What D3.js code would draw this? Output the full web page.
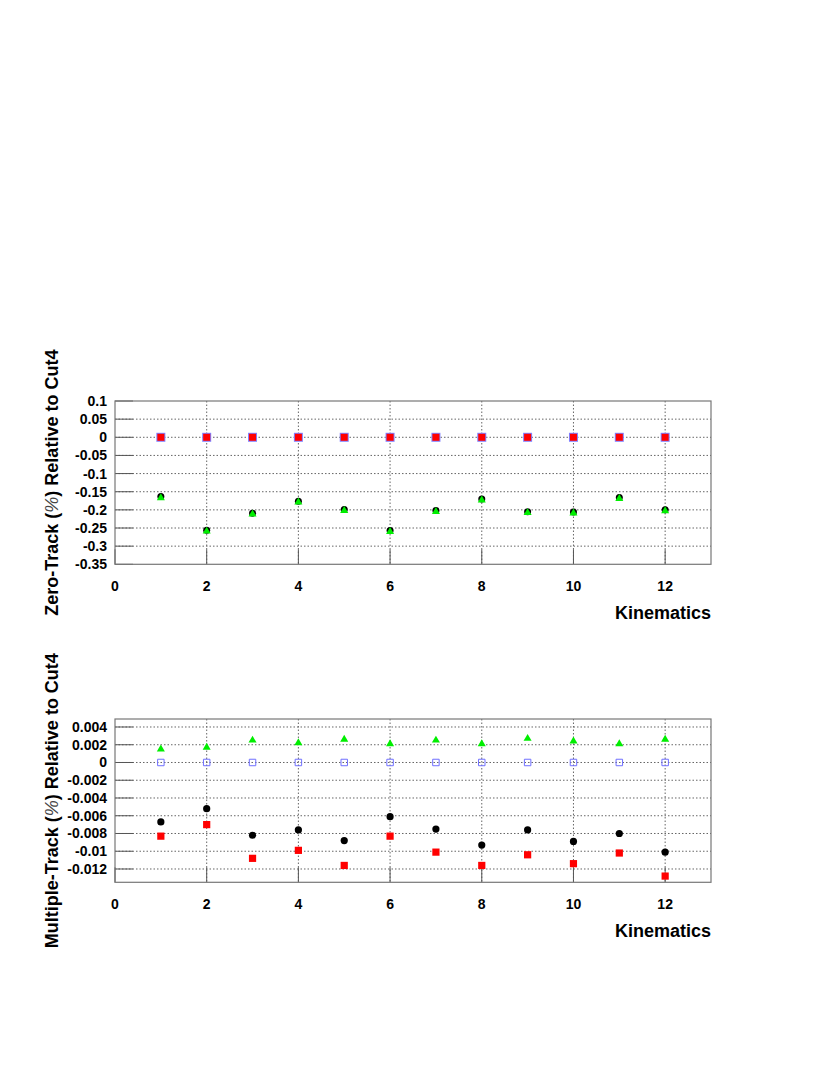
<!DOCTYPE html>
<html>
<head>
<meta charset="utf-8">
<script src="https://cdn.jsdelivr.net/npm/d3@7"></script>
<style>
  html, body { margin: 0; padding: 0; background: #fff; }
  svg { display: block; }
  text { font-family: "Liberation Sans", Arial, Helvetica, sans-serif; font-weight: bold; fill: #000; }
</style>
</head>
<body>
<svg id="chart" width="830" height="1075"></svg>
<script>
// ---------------- DATA ----------------
const kinematics = [1, 2, 3, 4, 5, 6, 7, 8, 9, 10, 11, 12];
const xTicks = [0, 2, 4, 6, 8, 10, 12];

// Zero-Track panel
const zeroBlack = [-0.163, -0.256, -0.209, -0.176, -0.199, -0.257, -0.202, -0.170, -0.205, -0.206, -0.166, -0.200];
const zeroGreen = [-0.167, -0.259, -0.212, -0.179, -0.202, -0.260, -0.205, -0.173, -0.208, -0.209, -0.169, -0.203];
const zeroBlue  = [0, 0, 0, 0, 0, 0, 0, 0, 0, 0, 0, 0];
const zeroRed   = [0, 0, 0, 0, 0, 0, 0, 0, 0, 0, 0, 0];
const zeroTicks = [0.1, 0.05, 0, -0.05, -0.1, -0.15, -0.2, -0.25, -0.3, -0.35];
const zeroTickLabels = ["0.1", "0.05", "0", "-0.05", "-0.1", "-0.15", "-0.2", "-0.25", "-0.3", "-0.35"];

// Multiple-Track panel
const multiGreen = [0.0015, 0.0017, 0.0025, 0.0022, 0.0026, 0.0021, 0.0025, 0.0021, 0.0027, 0.0024, 0.0021, 0.0026];
const multiBlue  = [0, 0, 0, 0, 0, 0, 0, 0, 0, 0, 0, 0];
const multiBlack = [-0.0067, -0.0052, -0.0082, -0.0076, -0.0088, -0.0061, -0.0075, -0.0093, -0.0076, -0.0089, -0.0080, -0.0101];
const multiRed   = [-0.0083, -0.0070, -0.0108, -0.0099, -0.0116, -0.0083, -0.0101, -0.0116, -0.0104, -0.0114, -0.0102, -0.0128];
const multiTicks = [0.004, 0.002, 0, -0.002, -0.004, -0.006, -0.008, -0.01, -0.012];
const multiTickLabels = ["0.004", "0.002", "0", "-0.002", "-0.004", "-0.006", "-0.008", "-0.01", "-0.012"];

const xTitle = "Kinematics";
const zeroTitle = ["Zero-Track (", "%", ") Relative to Cut4"];
const multiTitle = ["Multiple-Track (", "%", ") Relative to Cut4"];

// ---------------- DRAW ----------------
const svg = d3.select("#chart");

function panel(cfg) {
  const { top, bottom, left, right, yDomain, yTicks, yLabels, title, series } = cfg;
  const x = d3.scaleLinear().domain([0, 13]).range([left, right]);
  const y = d3.scaleLinear().domain(yDomain).range([bottom, top]);
  const g = svg.append("g");

  // grid (dotted)
  g.append("g").selectAll("line").data(yTicks.filter(v => y(v) > top + 1 && y(v) < bottom - 1))
    .join("line")
    .attr("x1", left).attr("x2", right)
    .attr("y1", d => y(d)).attr("y2", d => y(d))
    .attr("stroke", "#666").attr("stroke-width", 1).attr("stroke-dasharray", "1.5,2");
  g.append("g").selectAll("line").data(xTicks.filter(v => v > 0))
    .join("line")
    .attr("x1", d => x(d)).attr("x2", d => x(d))
    .attr("y1", top).attr("y2", bottom)
    .attr("stroke", "#666").attr("stroke-width", 1).attr("stroke-dasharray", "1.5,2");

  // ticks (solid, inside)
  g.append("g").selectAll("line").data(yTicks)
    .join("line")
    .attr("x1", left).attr("x2", left + 18)
    .attr("y1", d => y(d)).attr("y2", d => y(d))
    .attr("stroke", "#555").attr("stroke-width", 1);
  g.append("g").selectAll("line").data(xTicks)
    .join("line")
    .attr("x1", d => x(d)).attr("x2", d => x(d))
    .attr("y1", bottom).attr("y2", bottom - 15)
    .attr("stroke", "#555").attr("stroke-width", 1);

  // frame
  g.append("rect")
    .attr("x", left).attr("y", top)
    .attr("width", right - left).attr("height", bottom - top)
    .attr("fill", "none").attr("stroke", "#777").attr("stroke-width", 1.2);

  // tick labels
  g.append("g").selectAll("text").data(yTicks)
    .join("text")
    .attr("x", left - 8).attr("y", d => y(d))
    .attr("text-anchor", "end").attr("dominant-baseline", "central")
    .attr("font-size", 14)
    .text((d, i) => yLabels[i]);
  g.append("g").selectAll("text").data(xTicks)
    .join("text")
    .attr("x", d => x(d)).attr("y", bottom + 22)
    .attr("text-anchor", "middle").attr("dominant-baseline", "central")
    .attr("font-size", 14)
    .text(d => d);

  // axis titles
  g.append("text")
    .attr("x", right).attr("y", bottom + 49)
    .attr("text-anchor", "end").attr("dominant-baseline", "central")
    .attr("font-size", 18)
    .text(xTitle);
  const yt = g.append("text")
    .attr("transform", `translate(57.5,${(top + bottom) / 2}) rotate(-90)`)
    .attr("text-anchor", "middle")
    .attr("font-size", 18);
  yt.append("tspan").text(title[0]);
  yt.append("tspan").attr("font-style", "italic").style("font-weight", "normal").style("fill", "#444").text(title[1]);
  yt.append("tspan").text(title[2]);

  // markers
  const sym = (type, area) => d3.symbol().type(type).size(area)();
  series.forEach(s => {
    const sg = g.append("g");
    sg.selectAll("path").data(kinematics)
      .join("path")
      .attr("transform", (d, i) => `translate(${x(d)},${y(s.values[i])})`)
      .attr("d", sym(s.type, s.area))
      .attr("fill", s.fill)
      .attr("stroke", s.stroke || "none")
      .attr("stroke-width", s.strokeWidth || 0);
  });
}

panel({
  top: 401, bottom: 564.3, left: 115, right: 711,
  yDomain: [-0.35, 0.1], yTicks: zeroTicks, yLabels: zeroTickLabels, title: zeroTitle,
  series: [
    { values: zeroBlack, type: d3.symbolCircle, area: Math.PI * 3.5 * 3.5, fill: "#000" },
    { values: zeroGreen, type: d3.symbolTriangle, area: 28, fill: "#00ee00" },
    { values: zeroBlue,  type: d3.symbolSquare, area: 81, fill: "#8080ff" },
    { values: zeroRed,   type: d3.symbolSquare, area: 49, fill: "#ff0000" }
  ]
});

panel({
  top: 719, bottom: 882.3, left: 115, right: 711,
  yDomain: [-0.0135, 0.0049], yTicks: multiTicks, yLabels: multiTickLabels, title: multiTitle,
  series: [
    { values: multiGreen, type: d3.symbolTriangle, area: 28, fill: "#00ee00" },
    { values: multiBlue,  type: d3.symbolSquare, area: 42, fill: "none", stroke: "#7070ff", strokeWidth: 1 },
    { values: multiBlack, type: d3.symbolCircle, area: Math.PI * 3.6 * 3.6, fill: "#000" },
    { values: multiRed,   type: d3.symbolSquare, area: 52, fill: "#ff0000" }
  ]
});
</script>
</body>
</html>
